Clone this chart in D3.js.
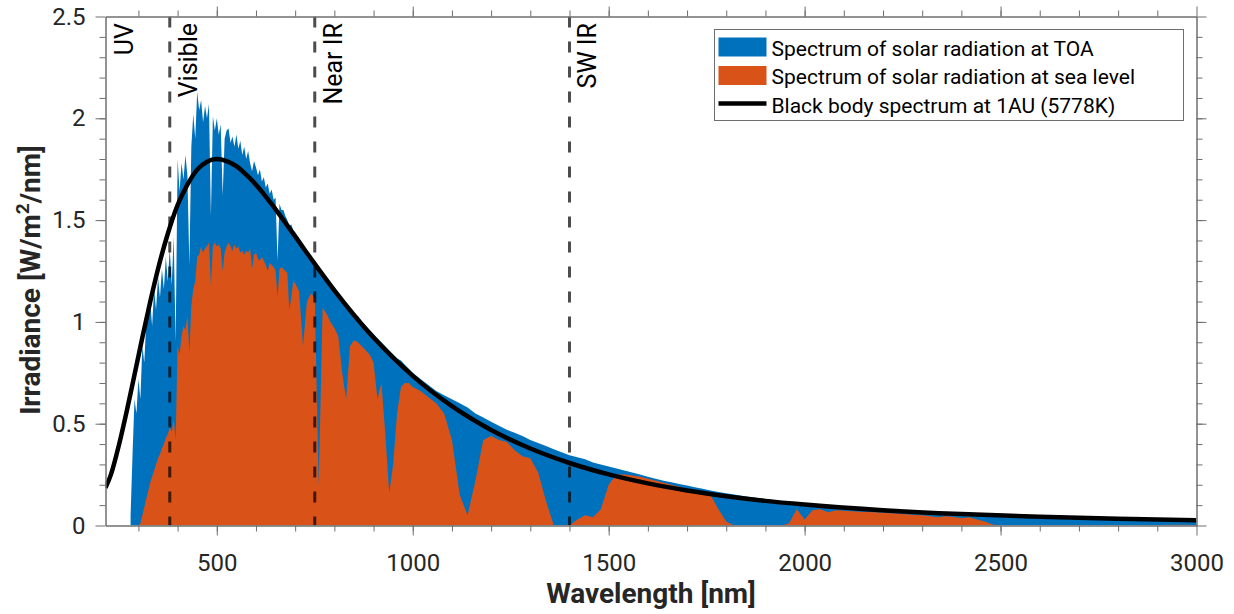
<!DOCTYPE html>
<html>
<head>
<meta charset='utf-8'>
<script src='https://d3js.org/d3.v7.min.js'></script>
<style>
    body {
        margin: 0;
        background: #fff;
        font-family: Roboto, sans-serif;
    }

    svg {
        display: block;
    }

    .axis text {
        font-family: Roboto, sans-serif;
        font-size: 24px;
        fill: #262626;
    }

    .axis path,
    .axis line {
        stroke: #6e6e6e;
        stroke-width: 1;
    }

    .label {
        font-family: Roboto, sans-serif;
        font-weight: bold;
        font-size: 28px;
        fill: #262626;
    }
</style>
</head>

<body>
<svg id='chart' width='1234' height='614'></svg>

<script>
    // wavelength grid [nm] shared by both measured spectra
    var wl = [
        280, 285, 290, 295, 300, 305, 310, 315, 320, 325, 330, 335, 340, 345, 350, 355, 360, 365, 370, 375,
        380, 385, 390, 395, 400, 405, 410, 415, 420, 425, 430, 435, 440, 445, 450, 455, 460, 465, 470, 475,
        480, 485, 490, 495, 500, 505, 510, 515, 520, 525, 530, 535, 540, 545, 550, 555, 560, 565, 570, 575,
        580, 585, 590, 595, 600, 605, 610, 615, 620, 625, 630, 635, 640, 645, 650, 655, 660, 665, 670, 675,
        680, 685, 690, 695, 700,
        710, 720, 730, 740, 750, 760, 770, 780, 790, 800, 810, 820, 830, 840, 850, 860, 870, 880, 890, 900,
        910, 920, 930, 940, 950, 960, 970, 980, 990, 1000,
        1020, 1040, 1060, 1080, 1100, 1120, 1140, 1160, 1180, 1200, 1220, 1240, 1260, 1280, 1300, 1320, 1340, 1360, 1380, 1400,
        1420, 1440, 1460, 1480, 1500, 1520, 1540, 1560, 1580, 1600, 1620, 1640, 1660, 1680, 1700, 1720, 1740, 1760, 1780, 1800,
        1820, 1840, 1860, 1880, 1900, 1920, 1940, 1960, 1980, 2000, 2020, 2040, 2060, 2080, 2100, 2120, 2140, 2160, 2180, 2200,
        2220, 2240, 2260, 2280, 2300, 2320, 2340, 2360, 2380, 2400, 2420, 2440, 2460, 2480, 2500,
        2550, 2600, 2650, 2700, 2750, 2800, 2850, 2900, 2950, 3000
    ];

    // top of atmosphere irradiance [W/m2/nm]
    var toa = [
        0.05, 0.35, 0.62, 0.55, 0.72, 0.62, 0.88, 0.80, 1.00, 1.06, 1.10, 0.98, 1.16, 1.06, 1.22, 1.12, 1.26, 1.16, 1.32, 1.20,
        1.36, 1.18, 1.42, 0.90, 1.80, 1.64, 1.78, 1.70, 1.82, 1.72, 1.28, 1.86, 2.02, 1.90, 2.13, 2.04, 2.09, 1.98, 2.06, 2.00,
        2.07, 1.52, 2.01, 1.94, 2.00, 1.92, 1.97, 1.62, 1.90, 1.94, 1.95, 1.88, 1.91, 1.86, 1.92, 1.85, 1.89, 1.82, 1.86, 1.80,
        1.84, 1.78, 1.74, 1.79, 1.76, 1.72, 1.75, 1.69, 1.71, 1.66, 1.68, 1.63, 1.65, 1.60, 1.61, 1.30, 1.58, 1.55, 1.55, 1.52,
        1.50, 1.47, 1.48, 1.45, 1.44,
        1.41, 1.38, 1.35, 1.32, 1.30, 1.27, 1.24, 1.21, 1.19, 1.17, 1.14, 1.12, 1.09, 1.07, 1.02, 1.03, 1.00, 0.98, 0.96, 0.94,
        0.92, 0.90, 0.88, 0.86, 0.84, 0.82, 0.81, 0.79, 0.77, 0.75,
        0.72, 0.69, 0.66, 0.64, 0.62, 0.60, 0.58, 0.55, 0.53, 0.51, 0.49, 0.47, 0.455, 0.44, 0.42, 0.405, 0.39, 0.375, 0.36, 0.345,
        0.335, 0.325, 0.31, 0.30, 0.29, 0.28, 0.27, 0.26, 0.25, 0.24, 0.23, 0.22, 0.212, 0.204, 0.196, 0.188, 0.18, 0.172, 0.165, 0.158,
        0.152, 0.146, 0.14, 0.135, 0.13, 0.125, 0.12, 0.115, 0.11, 0.106, 0.102, 0.099, 0.096, 0.093, 0.090, 0.087, 0.084, 0.082, 0.079, 0.077,
        0.075, 0.073, 0.071, 0.069, 0.067, 0.065, 0.063, 0.061, 0.059, 0.057, 0.056, 0.054, 0.052, 0.051, 0.049,
        0.046, 0.043, 0.040, 0.037, 0.035, 0.033, 0.031, 0.029, 0.027, 0.026
    ];

    // sea level irradiance [W/m2/nm]
    var sea = [
        0, 0, 0, 0, 0, 0.01, 0.05, 0.09, 0.13, 0.17, 0.21, 0.24, 0.27, 0.30, 0.33, 0.35, 0.38, 0.40, 0.43, 0.45,
        0.48, 0.46, 0.52, 0.42, 0.88, 0.84, 0.93, 0.98, 0.96, 1.03, 0.85, 1.08, 1.16, 1.20, 1.32, 1.33, 1.37, 1.34, 1.36, 1.37,
        1.39, 1.18, 1.37, 1.39, 1.37, 1.38, 1.36, 1.25, 1.34, 1.37, 1.39, 1.37, 1.35, 1.38, 1.36, 1.37, 1.34, 1.35, 1.33, 1.35,
        1.34, 1.36, 1.26, 1.33, 1.34, 1.31, 1.30, 1.32, 1.30, 1.28, 1.25, 1.29, 1.28, 1.27, 1.25, 1.12, 1.26, 1.27, 1.26, 1.25,
        1.24, 1.06, 1.12, 1.20, 1.19,
        1.15, 0.88, 1.10, 1.14, 1.12, 0.19, 1.07, 1.04, 1.00, 0.97, 0.93, 0.75, 0.62, 0.88, 0.91, 0.90, 0.88, 0.86, 0.84, 0.80,
        0.62, 0.70, 0.45, 0.16, 0.30, 0.55, 0.68, 0.70, 0.70, 0.68,
        0.66, 0.63, 0.60, 0.55, 0.42, 0.15, 0.05, 0.22, 0.42, 0.44, 0.42, 0.41, 0.37, 0.34, 0.33, 0.26, 0.12, 0, 0, 0,
        0.03, 0.05, 0.04, 0.08, 0.20, 0.25, 0.25, 0.245, 0.24, 0.23, 0.22, 0.21, 0.20, 0.19, 0.18, 0.175, 0.17, 0.15, 0.08, 0.02,
        0, 0, 0, 0, 0, 0, 0, 0.01, 0.08, 0.03, 0.075, 0.08, 0.065, 0.075, 0.072, 0.07, 0.068, 0.066, 0.065, 0.063,
        0.06, 0.058, 0.055, 0.052, 0.05, 0.045, 0.04, 0.045, 0.042, 0.035, 0.04, 0.03, 0.02, 0.005, 0,
        0, 0, 0, 0, 0, 0, 0, 0.003, 0.004, 0.003
    ];

    // black body curve at 1AU
    var bbWl = [216, 230, 250, 270, 290, 310, 330, 350, 375, 400, 425, 450, 475, 500, 525, 550, 575, 600, 650, 700,
        750, 800, 850, 900, 950, 1000, 1100, 1200, 1300, 1400, 1500, 1600, 1700, 1800, 1900, 2000, 2200, 2400, 2600, 2800, 3000];
    var bb = [0.185, 0.251, 0.393, 0.560, 0.740, 0.923, 1.098, 1.260, 1.433, 1.574, 1.674, 1.748, 1.787, 1.800, 1.790, 1.765, 1.723, 1.674, 1.553, 1.420,
        1.285, 1.155, 1.034, 0.923, 0.824, 0.735, 0.586, 0.469, 0.378, 0.307, 0.251, 0.207, 0.172, 0.144, 0.121, 0.103, 0.075, 0.056, 0.043, 0.033, 0.026];

    var xMajor = [500, 1000, 1500, 2000, 2500, 3000];
    var yMajor = [0, 0.5, 1, 1.5, 2, 2.5];
    var regionNames = ['UV', 'Visible', 'Near IR', 'SW IR'];
    var regionStart = [216, 380, 750, 1400];
    var legendLabels = ['Spectrum of solar radiation at TOA', 'Spectrum of solar radiation at sea level', 'Black body spectrum at 1AU (5778K)'];

    var blue = '#0072bd';
    var orange = '#d95319';

    // plot box (window.top is reserved, so own names)
    var pLeft = 105.5,
        pRight = 1196.5,
        pTop = 16.5,
        pBottom = 525.5;

    var svg = d3.select('#chart');

    var x = d3.scaleLinear()
        .domain([216, 3000])
        .range([pLeft, pRight]);

    var y = d3.scaleLinear()
        .domain([0, 2.5])
        .range([pBottom, pTop]);

    svg.append('clipPath')
        .attr('id', 'plotClip')
        .append('rect')
        .attr('x', pLeft)
        .attr('y', pTop)
        .attr('width', pRight - pLeft)
        .attr('height', pBottom - pTop);

    var plot = svg.append('g').attr('clip-path', 'url(#plotClip)');

    function areaFor(vals) {
        return d3.area()
            .x(function(d, i) { return x(wl[i]); })
            .y0(y(0))
            .y1(function(d, i) { return y(vals[i]); });
    }

    // spectra: TOA underneath, sea level on top
    plot.append('path')
        .datum(toa)
        .attr('fill', blue)
        .attr('d', areaFor(toa));

    plot.append('path')
        .datum(sea)
        .attr('fill', orange)
        .attr('d', areaFor(sea));

    // region boundaries
    plot.selectAll('.region')
        .data(regionStart.slice(1))
        .enter().append('line')
        .attr('class', 'region')
        .attr('x1', function(d) { return x(d); })
        .attr('x2', function(d) { return x(d); })
        .attr('y1', pTop)
        .attr('y2', pBottom)
        .attr('stroke', '#000')
        .attr('stroke-opacity', 0.7)
        .attr('stroke-width', 3)
        .attr('stroke-dasharray', '11,14');

    // black body
    plot.append('path')
        .datum(bb)
        .attr('fill', 'none')
        .attr('stroke', '#000')
        .attr('stroke-width', 4.5)
        .attr('d', d3.line()
            .x(function(d, i) { return x(bbWl[i]); })
            .y(function(d) { return y(d); })
            .curve(d3.curveMonotoneX));

    // region names, rotated
    svg.selectAll('.regionName')
        .data(regionNames)
        .enter().append('text')
        .attr('class', 'regionName')
        .attr('transform', function(d, i) {
            return 'translate(' + (x(regionStart[i]) + 27) + ',' + 23 + ')rotate(-90)';
        })
        .style('text-anchor', 'end')
        .style('font-family', 'Roboto, sans-serif')
        .style('font-size', '25px')
        .style('fill', '#000')
        .text(function(d) { return d; });

    // axes: major + minor ticks, all four sides, ticks out
    var xMinor = d3.range(300, 3000, 100);
    var yMinor = d3.range(0.1, 2.5, 0.1);

    svg.append('g')
        .attr('class', 'axis')
        .attr('transform', 'translate(0,' + pBottom + ')')
        .call(d3.axisBottom(x).tickValues(xMajor).tickSize(10).tickSizeOuter(0).tickPadding(18).tickFormat(d3.format('d')));

    svg.append('g')
        .attr('class', 'axis')
        .attr('transform', 'translate(0,' + pBottom + ')')
        .call(d3.axisBottom(x).tickValues(xMinor).tickSize(6).tickSizeOuter(0).tickFormat(''));

    svg.append('g')
        .attr('class', 'axis')
        .attr('transform', 'translate(0,' + pTop + ')')
        .call(d3.axisTop(x).tickValues(xMajor).tickSize(10).tickSizeOuter(0).tickFormat(''));

    svg.append('g')
        .attr('class', 'axis')
        .attr('transform', 'translate(0,' + pTop + ')')
        .call(d3.axisTop(x).tickValues(xMinor).tickSize(6).tickSizeOuter(0).tickFormat(''));

    svg.append('g')
        .attr('class', 'axis')
        .attr('transform', 'translate(' + pLeft + ',0)')
        .call(d3.axisLeft(y).tickValues(yMajor).tickSize(10).tickSizeOuter(0).tickPadding(10).tickFormat(d3.format('')));

    svg.append('g')
        .attr('class', 'axis')
        .attr('transform', 'translate(' + pLeft + ',0)')
        .call(d3.axisLeft(y).tickValues(yMinor).tickSize(6).tickSizeOuter(0).tickFormat(''));

    svg.append('g')
        .attr('class', 'axis')
        .attr('transform', 'translate(' + pRight + ',0)')
        .call(d3.axisRight(y).tickValues(yMajor).tickSize(10).tickSizeOuter(0).tickFormat(''));

    svg.append('g')
        .attr('class', 'axis')
        .attr('transform', 'translate(' + pRight + ',0)')
        .call(d3.axisRight(y).tickValues(yMinor).tickSize(6).tickSizeOuter(0).tickFormat(''));

    // axis labels
    svg.append('text')
        .attr('class', 'label')
        .attr('x', (pLeft + pRight) / 2)
        .attr('y', 603)
        .style('text-anchor', 'middle')
        .text('Wavelength [nm]');

    var ylab = svg.append('text')
        .attr('class', 'label')
        .attr('transform', 'translate(' + 40 + ',' + 280 + ')rotate(-90)')
        .style('text-anchor', 'middle');
    ylab.append('tspan').text('Irradiance [W/m');
    ylab.append('tspan').attr('dy', -11).style('font-size', '19px').text('2');
    ylab.append('tspan').attr('dy', 11).text('/nm]');

    // legend
    var legend = svg.append('g').attr('transform', 'translate(714.5,29.5)');

    legend.append('rect')
        .attr('width', 469)
        .attr('height', 91)
        .attr('fill', '#fff')
        .attr('stroke', '#6e6e6e')
        .attr('stroke-width', 1);

    var rows = legend.selectAll('.row')
        .data(legendLabels)
        .enter().append('g')
        .attr('class', 'row')
        .attr('transform', function(d, i) { return 'translate(0,' + (i * 28.5) + ')'; });

    rows.filter(function(d, i) { return i < 2; })
        .append('rect')
        .attr('x', 4)
        .attr('y', 8)
        .attr('width', 48)
        .attr('height', 19)
        .attr('fill', function(d, i) { return i === 0 ? blue : orange; });

    rows.filter(function(d, i) { return i === 2; })
        .append('line')
        .attr('x1', 4)
        .attr('x2', 52)
        .attr('y1', 17)
        .attr('y2', 17)
        .attr('stroke', '#000')
        .attr('stroke-width', 4.5);

    rows.append('text')
        .attr('x', 57)
        .attr('y', 26)
        .style('font-family', 'Roboto, sans-serif')
        .style('font-size', '21px')
        .style('fill', '#000')
        .text(function(d) { return d; });
</script>
</body>
</html>
